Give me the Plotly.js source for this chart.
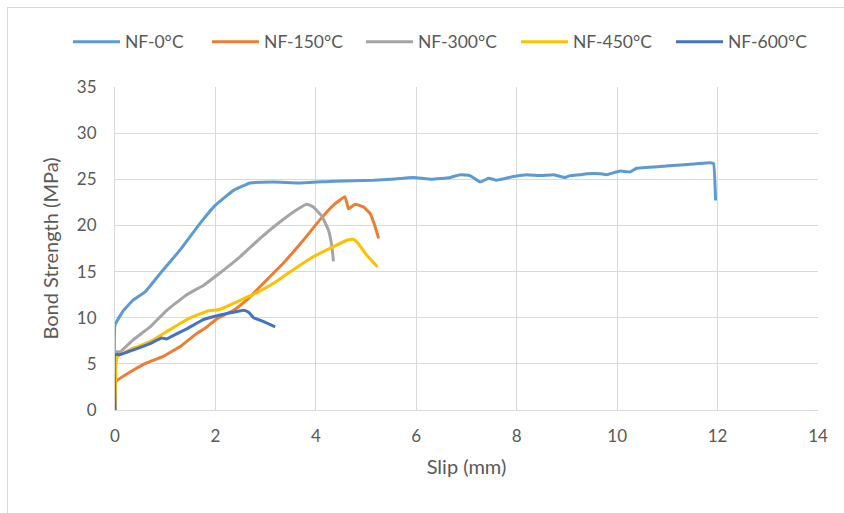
<!DOCTYPE html>
<html>
<head>
<meta charset="utf-8">
<script src="https://cdn.plot.ly/plotly-3.0.1.min.js"></script>
<style>
html,body{margin:0;padding:0;background:#fff;}
#wrap{position:relative;width:844px;height:513px;}
#chart{position:absolute;left:0;top:0;width:844px;height:513px;}
#frame{position:absolute;left:7px;top:7px;width:850px;height:520px;border-left:1px solid #d9d9d9;border-top:1px solid #d9d9d9;pointer-events:none;}
</style>
</head>
<body>
<div id="wrap"><div id="chart"></div><div id="frame"></div></div>
<script>
const seriesNames = ["NF-0°C", "NF-150°C", "NF-300°C", "NF-450°C", "NF-600°C"];
const seriesColors = ["#5B9BD5", "#ED7D31", "#A5A5A5", "#FFC000", "#4472C4"];

const slip0 = [0, 0, 0.17, 0.36, 0.6, 0.9, 1.29, 1.69, 2.0, 2.36, 2.69, 3.15, 3.69, 4.35, 5.15, 5.5, 5.94, 6.3, 6.68, 6.87, 7.07, 7.27, 7.44, 7.6, 7.94, 8.2, 8.47, 8.73, 8.96, 9.06, 9.26, 9.4, 9.66, 9.79, 10.06, 10.26, 10.39, 10.92, 11.85, 11.92, 11.96];
const bond0 = [0, 9.2, 10.8, 11.9, 12.8, 14.8, 17.3, 20.2, 22.2, 23.8, 24.6, 24.7, 24.6, 24.8, 24.9, 25.0, 25.2, 25.0, 25.2, 25.5, 25.4, 24.7, 25.1, 24.9, 25.3, 25.5, 25.4, 25.5, 25.2, 25.4, 25.5, 25.6, 25.6, 25.5, 25.9, 25.8, 26.2, 26.4, 26.8, 26.7, 22.7];

const slip150 = [0, 0.02, 0.36, 0.63, 0.96, 1.33, 1.63, 1.83, 2.03, 2.36, 2.62, 2.95, 3.35, 3.75, 4.08, 4.35, 4.58, 4.65, 4.78, 4.95, 5.08, 5.16, 5.25];
const bond150 = [0, 3.1, 4.3, 5.1, 5.8, 7.0, 8.3, 9.0, 9.9, 10.8, 11.9, 13.7, 15.9, 18.4, 20.6, 22.2, 23.1, 21.8, 22.3, 22.0, 21.3, 20.2, 18.6];

const slip300 = [0, 0, 0.1, 0.36, 0.7, 1.03, 1.43, 1.76, 2.03, 2.49, 2.89, 3.29, 3.62, 3.82, 3.95, 4.12, 4.25, 4.32, 4.35];
const bond300 = [0, 6.3, 6.3, 7.6, 9.0, 10.8, 12.5, 13.5, 14.6, 16.6, 18.6, 20.4, 21.7, 22.3, 22.0, 21.0, 19.5, 17.7, 16.1];

const slip450 = [0, 0.02, 0.05, 0.36, 0.7, 1.03, 1.43, 1.83, 2.09, 2.42, 2.82, 3.15, 3.55, 3.95, 4.35, 4.62, 4.75, 4.85, 5.01, 5.23];
const bond450 = [0, 5.1, 5.8, 6.7, 7.4, 8.5, 9.8, 10.7, 10.9, 11.7, 12.7, 13.7, 15.2, 16.6, 17.7, 18.4, 18.5, 18.0, 16.8, 15.5];

const slip600 = [0, 0, 0.1, 0.36, 0.7, 0.93, 1.03, 1.1, 1.43, 1.76, 2.09, 2.36, 2.56, 2.66, 2.76, 2.95, 3.19];
const bond600 = [0, 6.0, 6.0, 6.5, 7.2, 7.8, 7.7, 7.9, 8.8, 9.8, 10.3, 10.6, 10.8, 10.6, 10.0, 9.6, 9.0];

const xTicks = [0, 2, 4, 6, 8, 10, 12, 14];
const yTicks = [0, 5, 10, 15, 20, 25, 30, 35];

const xs = [slip0, slip150, slip300, slip450, slip600];
const ys = [bond0, bond150, bond300, bond450, bond600];

// legend entry positions (paper x), one legend per series to mimic spacing
const legendX = [-0.0669, 0.1309, 0.3499, 0.5704, 0.7909];
const legendIds = ['legend', 'legend2', 'legend3', 'legend4', 'legend5'];

const traces = seriesNames.map((n, i) => ({
  type: 'scatter', mode: 'lines', name: n, legend: legendIds[i],
  x: xs[i], y: ys[i],
  line: {color: seriesColors[i], width: 3, shape: 'spline', smoothing: 0.3}
}));

const txt = '#595959';
const layout = {
  width: 844, height: 513,
  margin: {l: 115, r: 26, t: 87, b: 103},
  paper_bgcolor: 'rgba(0,0,0,0)', plot_bgcolor: '#fff',
  font: {family: 'Lato, Calibri, sans-serif', size: 16, color: txt},
  showlegend: true,
  xaxis: {
    range: [0, 14], tickvals: xTicks, ticktext: xTicks.map(String),
    showgrid: true, gridcolor: '#d9d9d9', gridwidth: 1,
    zeroline: false, showline: true, linecolor: '#d9d9d9', linewidth: 1,
    ticks: '', ticklabelstandoff: 11,
    tickfont: {size: 17, color: txt},
    title: {text: 'Slip (mm)', font: {size: 20, color: txt}, standoff: 14}
  },
  yaxis: {
    range: [0, 35], tickvals: yTicks, ticktext: yTicks.map(String),
    showgrid: true, gridcolor: '#d9d9d9', gridwidth: 1,
    zeroline: false, showline: true, linecolor: '#d9d9d9', linewidth: 1,
    ticks: '', ticklabelstandoff: 14,
    tickfont: {size: 17, color: txt},
    title: {text: 'Bond Strength (MPa)', font: {size: 20, color: txt}, standoff: 12}
  }
};
legendIds.forEach((id, i) => {
  layout[id] = {
    orientation: 'h', x: legendX[i], xanchor: 'left', y: 1.14, yanchor: 'middle',
    font: {size: 17.5, color: txt}, itemwidth: 47, bgcolor: 'rgba(0,0,0,0)'
  };
});

Plotly.newPlot('chart', traces, layout, {displayModeBar: false, staticPlot: true});
</script>
</body>
</html>
